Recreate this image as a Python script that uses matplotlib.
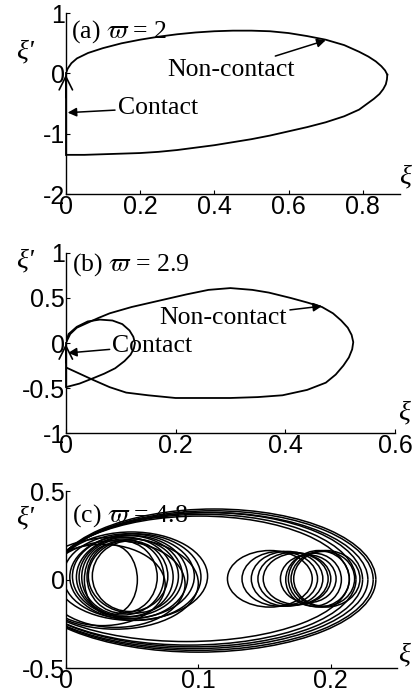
import matplotlib

matplotlib.use("Agg")
import matplotlib.pyplot as plt
from matplotlib.patches import Arc, Ellipse

plt.rcParams["font.family"] = "Liberation Sans"
plt.rcParams["mathtext.fontset"] = "stix"
plt.rcParams["axes.unicode_minus"] = False

SERIF = ["Liberation Serif", "DejaVu Serif"]

# (a) varpi = 2 : one free-flight loop and one contact segment
a_upper_x = [0, 0.005, 0.015, 0.03, 0.06, 0.1, 0.15, 0.2, 0.25, 0.3, 0.35, 0.4,
             0.45, 0.5, 0.55, 0.6, 0.65, 0.7, 0.75, 0.79, 0.815, 0.835, 0.85,
             0.86, 0.866]
a_upper_y = [0, 0.08, 0.17, 0.25, 0.34, 0.42, 0.50, 0.56, 0.61, 0.65, 0.68, 0.70,
             0.71, 0.71, 0.70, 0.67, 0.62, 0.56, 0.47, 0.36, 0.28, 0.20, 0.12,
             0.05, -0.02]
a_lower_x = [0.866, 0.865, 0.862, 0.855, 0.845, 0.83, 0.81, 0.79, 0.75, 0.7,
             0.65, 0.6, 0.55, 0.5, 0.45, 0.4, 0.35, 0.3, 0.25, 0.2, 0.15, 0.1,
             0.05, 0]
a_lower_y = [-0.02, -0.10, -0.18, -0.26, -0.34, -0.42, -0.51, -0.60, -0.71,
             -0.81, -0.89, -0.96, -1.03, -1.09, -1.14, -1.19, -1.23, -1.27, -1.30,
             -1.32, -1.33, -1.34, -1.35, -1.35]
a_contact_y = [-1.35, 0]

# (b) varpi = 2.9 : large loop, small loop, contact segment
b_big_x = [0, 0.008, 0.02, 0.038, 0.06, 0.08, 0.12, 0.17, 0.22, 0.26, 0.3, 0.34,
           0.37, 0.41, 0.44, 0.467, 0.487, 0.502, 0.514, 0.521, 0.524, 0.522,
           0.516, 0.506, 0.492, 0.474, 0.44, 0.395, 0.35, 0.3, 0.244, 0.2, 0.15,
           0.11, 0.08, 0.05, 0.025, 0]
b_big_y = [0, 0.1, 0.17, 0.22, 0.28, 0.33, 0.40, 0.47, 0.54, 0.59, 0.61, 0.59,
           0.56, 0.50, 0.45, 0.40, 0.33, 0.25, 0.17, 0.09, 0.01, -0.07, -0.16,
           -0.25, -0.35, -0.44, -0.52, -0.58, -0.60, -0.61, -0.61, -0.61, -0.58,
           -0.55, -0.49, -0.41, -0.34, -0.27]
b_small_x = [0, 0.005, 0.02, 0.04, 0.062, 0.085, 0.103, 0.116, 0.123, 0.126,
             0.124, 0.118, 0.107, 0.09, 0.07, 0.05, 0.025, 0]
b_small_y = [0, 0.1, 0.18, 0.24, 0.26, 0.25, 0.21, 0.14, 0.07, 0.0, -0.06, -0.13,
             -0.2, -0.28, -0.34, -0.39, -0.45, -0.49]
b_contact_y = [-0.49, 0]

# (c) varpi = 4.8 : chaotic motion, loops given by their extents
c_left_x0 = [0.014, 0.016, 0.012, 0.020, 0.010, 0.017, 0.005, 0.008, -0.002,
             0.003, -0.008, -0.02, -0.015, -0.025]
c_left_x1 = [0.054, 0.069, 0.074, 0.077, 0.081, 0.085, 0.088, 0.092, 0.097,
             0.102, 0.107, 0.075, 0.09, 0.1]
c_left_top = [0.20, 0.22, 0.23, 0.22, 0.24, 0.23, 0.25, 0.25, 0.26, 0.26, 0.27,
              0.20, 0.22, 0.24]
c_left_bot = [-0.20, -0.19, -0.20, -0.18, -0.21, -0.19, -0.21, -0.22, -0.22,
              -0.23, -0.23, -0.26, -0.27, -0.28]

c_right_x0 = [0.122, 0.133, 0.140, 0.145, 0.149, 0.162, 0.168, 0.170, 0.166,
              0.172]
c_right_x1 = [0.186, 0.190, 0.194, 0.198, 0.200, 0.204, 0.214, 0.222, 0.208,
              0.218]
c_right_top = [0.165, 0.16, 0.16, 0.155, 0.15, 0.14, 0.165, 0.165, 0.15, 0.16]
c_right_bot = [-0.155, -0.15, -0.15, -0.145, -0.14, -0.13, -0.155, -0.155,
               -0.15, -0.15]

c_outer_right = [0.214, 0.219, 0.224, 0.228, 0.232, 0.234]
c_outer_top = [0.36, 0.37, 0.38, 0.38, 0.39, 0.40]
c_outer_bot = [-0.35, -0.37, -0.38, -0.39, -0.40, -0.41]
c_outer_top_half = [0.113, 0.115, 0.117, 0.119, 0.121, 0.122]
c_outer_bot_half = [0.123, 0.126, 0.128, 0.131, 0.133, 0.134]

LW = 1.3


def style_axes(ax, xlim, ylim, xticks, yticks, xlabels, ylabels):
    ax.set_xlim(*xlim)
    ax.set_ylim(*ylim)
    ax.spines["top"].set_visible(False)
    ax.spines["right"].set_visible(False)
    for side in ("left", "bottom"):
        ax.spines[side].set_linewidth(1.0)
    ax.set_xticks(xticks, labels=xlabels)
    ax.set_yticks(yticks, labels=ylabels)
    ax.tick_params(direction="in", length=3, width=0.8, pad=0.5, labelsize=18)


def axis_names(ax, xi_pos, xip_pos):
    ax.text(*xi_pos, "ξ", transform=ax.transAxes, fontsize=20, family=SERIF,
            style="italic", ha="center", va="center")
    ax.text(*xip_pos, "ξ'", transform=ax.transAxes, fontsize=20, family=SERIF,
            style="italic", ha="center", va="center")


def arrow(ax, text, xy, xytext):
    ax.annotate(text, xy=xy, xytext=xytext, fontsize=18.5, family=SERIF,
                va="center", arrowprops=dict(arrowstyle="-|>", color="k", lw=1.1,
                                             mutation_scale=13, shrinkA=0,
                                             shrinkB=0))


def contact_tip(ax, y0, y1):
    ax.annotate("", xy=(0, y1), xytext=(0, y0), annotation_clip=False,
                arrowprops=dict(arrowstyle="->", color="k", lw=1.2,
                                mutation_scale=24, shrinkA=0, shrinkB=0))


def panel_title(ax, tag, value, pos):
    ax.text(*pos, f"({tag}) $\\varpi$ = {value}", transform=ax.transAxes,
            fontsize=18.5, family=SERIF, va="center")


fig = plt.figure(figsize=(4.14, 6.93), dpi=100)
ax_a = fig.add_axes([0.159, 0.720, 0.807, 0.261])
ax_b = fig.add_axes([0.159, 0.375, 0.795, 0.260])
ax_c = fig.add_axes([0.159, 0.036, 0.800, 0.255])

# panel (a)
ax_a.plot(a_upper_x, a_upper_y, color="k", lw=LW)
ax_a.plot(a_lower_x, a_lower_y, color="k", lw=LW)
ax_a.plot([0, 0], a_contact_y, color="k", lw=LW, clip_on=False)
contact_tip(ax_a, -0.4, -0.02)
style_axes(ax_a, (0, 0.9), (-2, 1), [0, 0.2, 0.4, 0.6, 0.8], [-2, -1, 0, 1],
           ["0", "0.2", "0.4", "0.6", "0.8"], ["-2", "-1", "0", "1"])
panel_title(ax_a, "a", "2", (0.015, 0.90))
arrow(ax_a, "Non-contact", xy=(0.70, 0.55), xytext=(0.274, 0.06))
arrow(ax_a, "Contact", xy=(0.005, -0.65), xytext=(0.14, -0.57))
axis_names(ax_a, (1.015, 0.094), (-0.123, 0.785))

# panel (b)
ax_b.plot(b_big_x, b_big_y, color="k", lw=LW)
ax_b.plot(b_small_x, b_small_y, color="k", lw=LW)
ax_b.plot([0, 0], b_contact_y, color="k", lw=LW, clip_on=False)
contact_tip(ax_b, -0.22, -0.01)
style_axes(ax_b, (0, 0.6), (-1, 1), [0, 0.2, 0.4, 0.6], [-1, -0.5, 0, 0.5, 1],
           ["0", "0.2", "0.4", "0.6"], ["-1", "-0.5", "0", "0.5", "1"])
panel_title(ax_b, "b", "2.9", (0.018, 0.933))
arrow(ax_b, "Non-contact", xy=(0.467, 0.41), xytext=(0.171, 0.28))
arrow(ax_b, "Contact", xy=(0.004, -0.11), xytext=(0.085, -0.03))
axis_names(ax_b, (1.027, 0.111), (-0.125, 0.956))

# panel (c)
for x0, x1, top, bot in zip(c_left_x0, c_left_x1, c_left_top, c_left_bot):
    ax_c.add_patch(Ellipse(((x0 + x1) / 2, (top + bot) / 2), x1 - x0, top - bot,
                           fill=False, color="k", lw=1.1))
for x0, x1, top, bot in zip(c_right_x0, c_right_x1, c_right_top, c_right_bot):
    ax_c.add_patch(Ellipse(((x0 + x1) / 2, (top + bot) / 2), x1 - x0, top - bot,
                           fill=False, color="k", lw=1.1))
for right, top, bot, ht, hb in zip(c_outer_right, c_outer_top, c_outer_bot,
                                   c_outer_top_half, c_outer_bot_half):
    ax_c.add_patch(Arc((right - ht, 0), 2 * ht, 2 * top, theta1=0, theta2=180,
                       color="k", lw=1.1))
    ax_c.add_patch(Arc((right - hb, 0), 2 * hb, -2 * bot, theta1=180, theta2=360,
                       color="k", lw=1.1))
style_axes(ax_c, (0, 0.25), (-0.5, 0.5), [0, 0.1, 0.2], [-0.5, 0, 0.5],
           ["0", "0.1", "0.2"], ["-0.5", "0", "0.5"])
panel_title(ax_c, "c", "4.8", (0.018, 0.864))
axis_names(ax_c, (1.021, 0.073), (-0.124, 0.847))

fig.savefig("out.png", dpi=100)
